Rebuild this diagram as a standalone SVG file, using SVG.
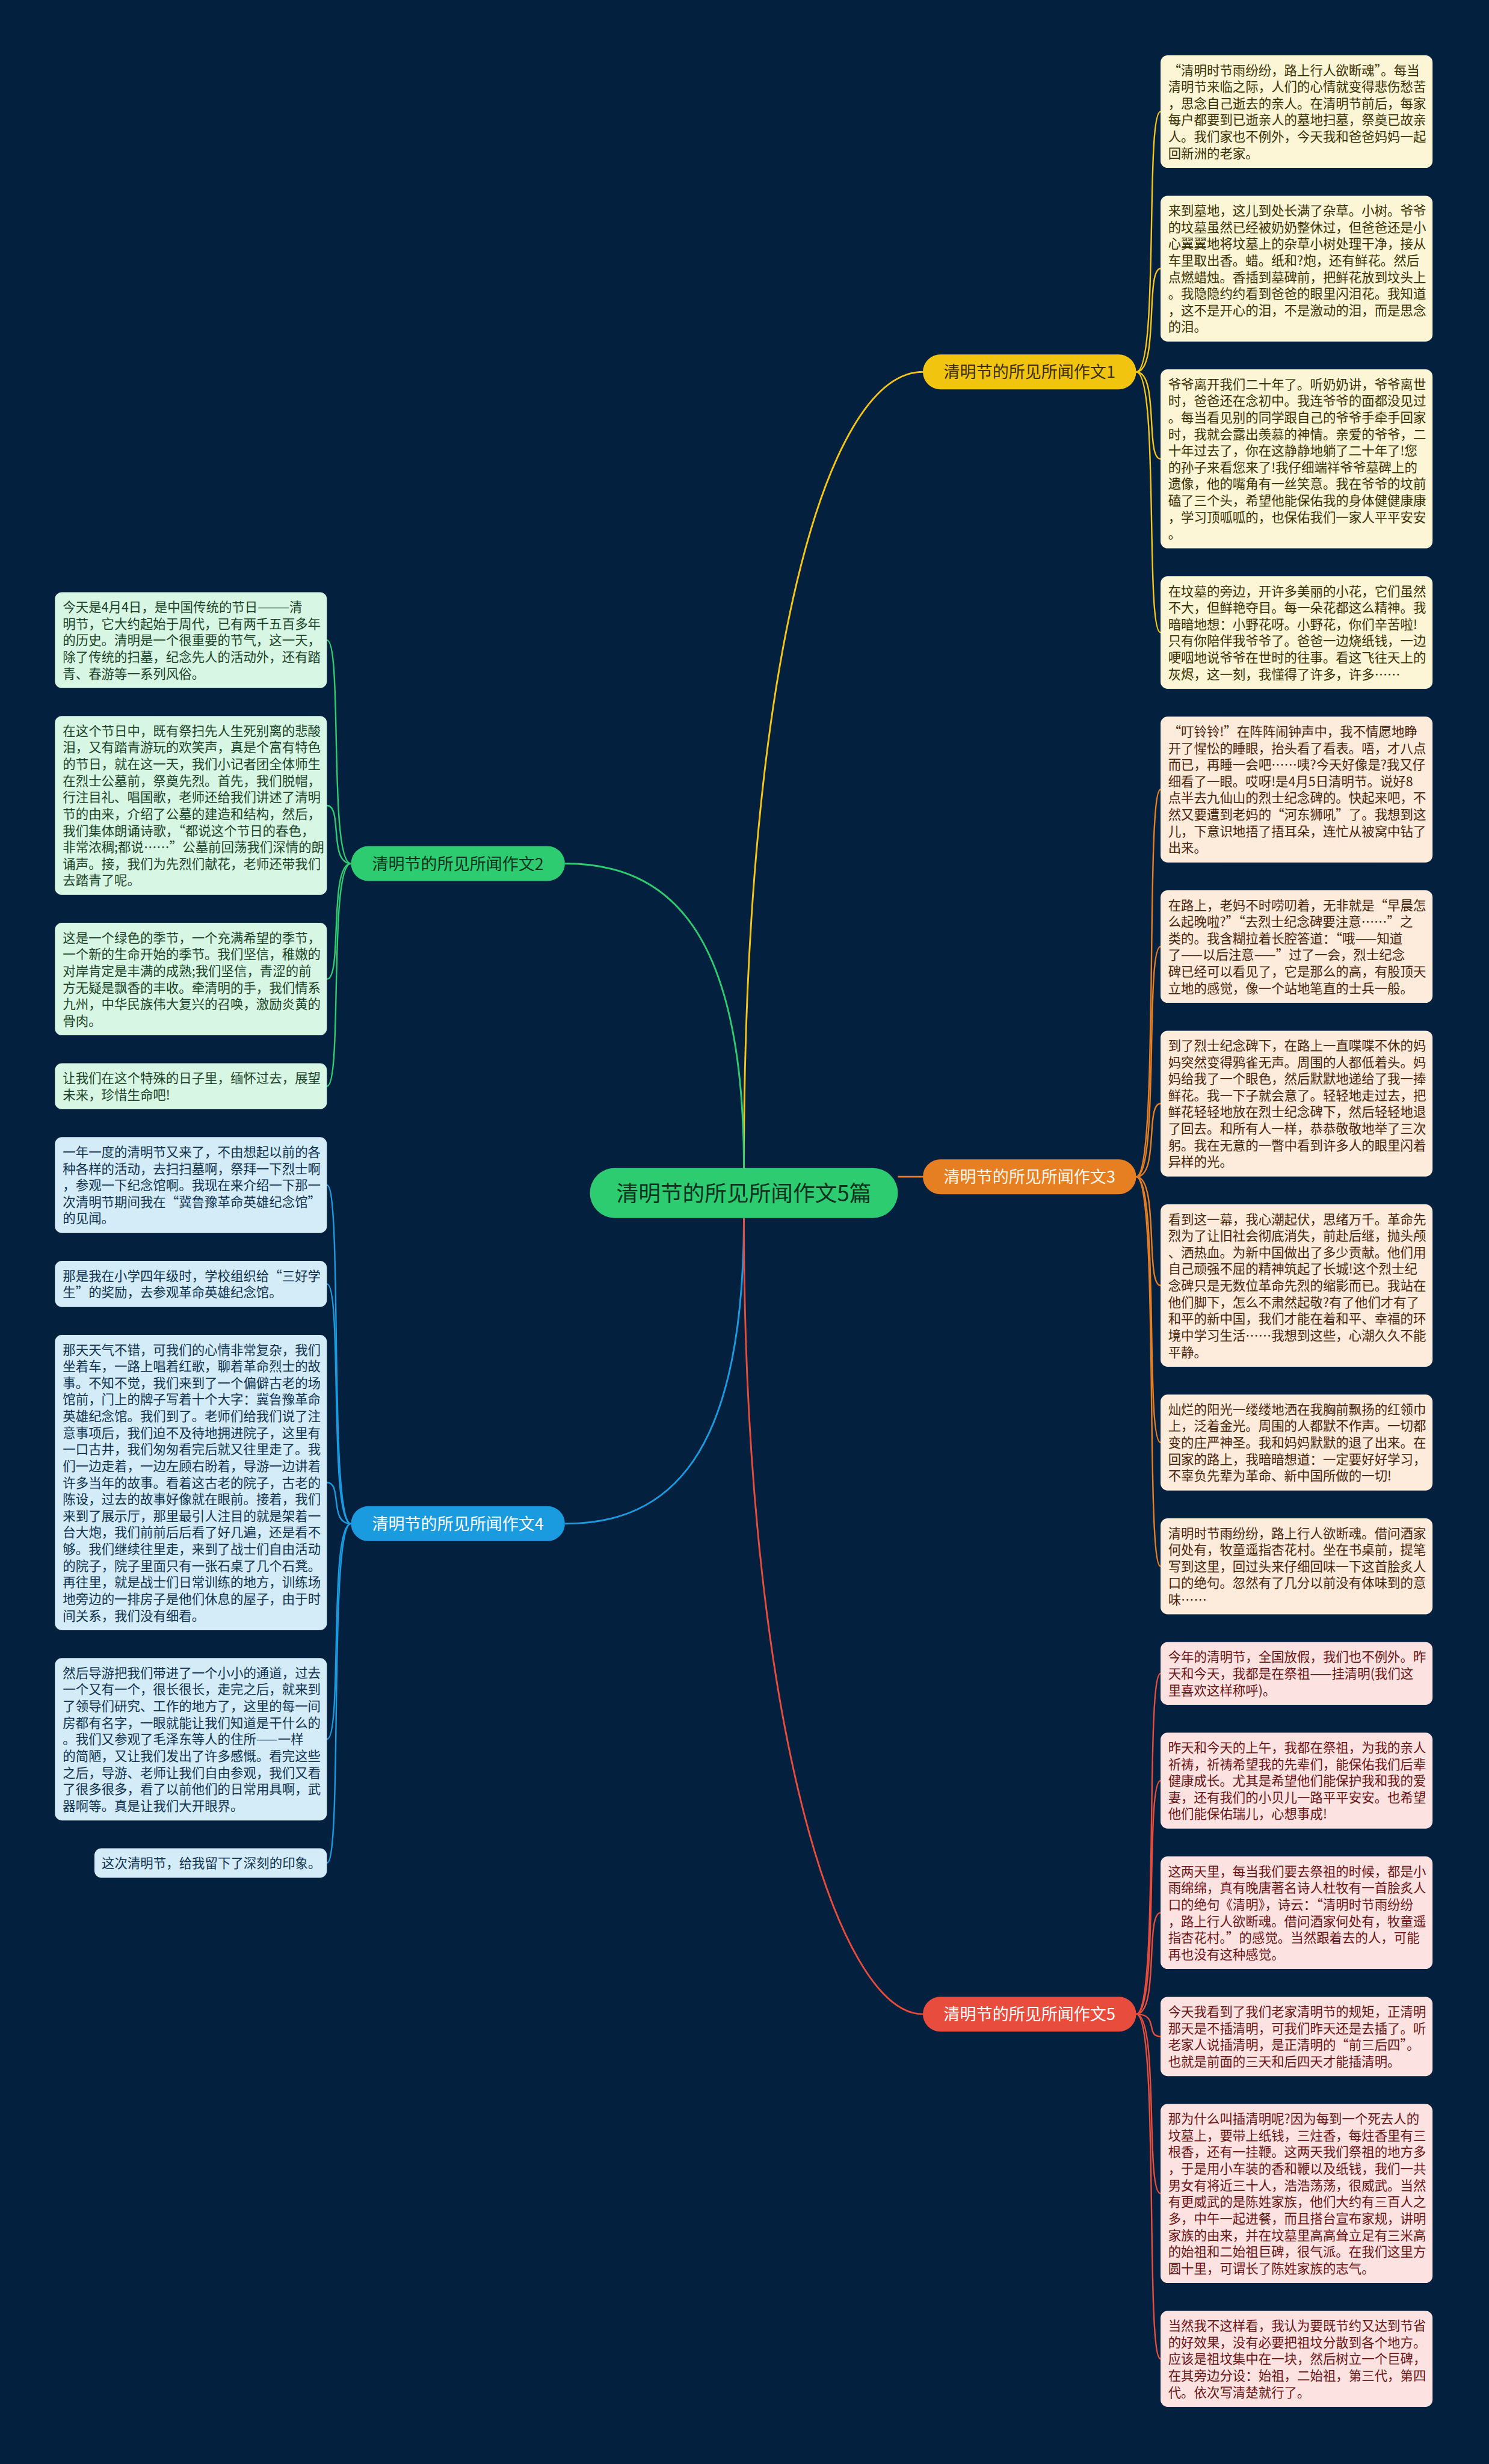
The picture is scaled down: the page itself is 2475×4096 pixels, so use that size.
<svg xmlns="http://www.w3.org/2000/svg" width="2475" height="4096" viewBox="0 0 2475 4096">
<style>
.t{font-family:"Noto Sans CJK SC","Noto Sans CJK JP",sans-serif;font-size:22.2px}
.bt{font-family:"Noto Sans CJK SC","Noto Sans CJK JP",sans-serif;font-size:28px;text-anchor:middle}
.ct{font-family:"Noto Sans CJK SC","Noto Sans CJK JP",sans-serif;font-size:38px;text-anchor:middle;fill:#0b3320}
.by{fill:#fdf6d6}.ty{fill:#3a3000}
.bo{fill:#fdebdc}.to{fill:#4a2408}
.br{fill:#fde2e2}.tr{fill:#6b1414}
.bg{fill:#d8f6e4}.tg{fill:#1b4429}
.bb{fill:#d3ecf8}.tb{fill:#0f3350}
.c{fill:none;stroke-width:2.5}
.m{fill:none;stroke-width:3}
</style>
<rect x="0" y="0" width="2475" height="4096" fill="#03213e"/>
<g transform="scale(0.966)">
<g id="connectors">
<path class="m" stroke="#f5c518" d="M1280,2010 C1280,1150 1420,640 1588,640"/>
<path class="m" stroke="#2ecc71" d="M1280,2010 C1280,1600 1150,1486 972,1486"/>
<path class="m" stroke="#1a9be0" d="M1280,2096 C1280,2510 1150,2622 972,2622"/>
<path class="m" stroke="#e74c3c" d="M1280,2096 C1280,2950 1440,3466 1588,3466"/>
<path class="m" stroke="#e67e22" d="M1545,2025 L1588,2025"/>
<g stroke="#f5c518">
<path class="c" d="M1955,640 C1995,640 1970,192.1 1997,192.1"/>
<path class="c" d="M1955,640 C1995,640 1970,462.3 1997,462.3"/>
<path class="c" d="M1955,640 C1995,640 1970,789.7 1997,789.7"/>
<path class="c" d="M1955,640 C1995,640 1970,1088.5 1997,1088.5"/>
</g>
<g stroke="#e67e22">
<path class="c" d="M1955,2025 C1995,2025 1970,1358.7 1997,1358.7"/>
<path class="c" d="M1955,2025 C1995,2025 1970,1628.9 1997,1628.9"/>
<path class="c" d="M1955,2025 C1995,2025 1970,1899.1 1997,1899.1"/>
<path class="c" d="M1955,2025 C1995,2025 1970,2212.2 1997,2212.2"/>
<path class="c" d="M1955,2025 C1995,2025 1970,2482.4 1997,2482.4"/>
<path class="c" d="M1955,2025 C1995,2025 1970,2695.4 1997,2695.4"/>
</g>
<g stroke="#e74c3c">
<path class="c" d="M1955,3466 C1995,3466 1970,2879.8 1997,2879.8"/>
<path class="c" d="M1955,3466 C1995,3466 1970,3064.2 1997,3064.2"/>
<path class="c" d="M1955,3466 C1995,3466 1970,3291.5 1997,3291.5"/>
<path class="c" d="M1955,3466 C1995,3466 1970,3504.5 1997,3504.5"/>
<path class="c" d="M1955,3466 C1995,3466 1970,3774.7 1997,3774.7"/>
<path class="c" d="M1955,3466 C1995,3466 1970,4059.2 1997,4059.2"/>
</g>
<g stroke="#2ecc71">
<path class="c" d="M604,1486 C565,1486 590,1101.6 562.5,1101.6"/>
<path class="c" d="M604,1486 C565,1486 590,1386.1 562.5,1386.1"/>
<path class="c" d="M604,1486 C565,1486 590,1684.9 562.5,1684.9"/>
<path class="c" d="M604,1486 C565,1486 590,1869.3 562.5,1869.3"/>
</g>
<g stroke="#1a9be0">
<path class="c" d="M604,2622 C565,2622 590,2039.4 562.5,2039.4"/>
<path class="c" d="M604,2622 C565,2622 590,2209.5 562.5,2209.5"/>
<path class="c" d="M604,2622 C565,2622 590,2551.2 562.5,2551.2"/>
<path class="c" d="M604,2622 C565,2622 590,2993 562.5,2993"/>
<path class="c" d="M604,2622 C565,2622 590,3206 562.5,3206"/>
</g>
</g>

<g id="center">
<rect x="1015" y="2010" width="530" height="86" rx="43" fill="#2ecc71"/>
<text class="ct" x="1280" y="2067">清明节的所见所闻作文5篇</text>
</g>
<g id="b1"><rect x="1588" y="610" width="367" height="60" rx="30" fill="#f1c40f"/><text class="bt" x="1771.5" y="650.5" fill="#3a2e00">清明节的所见所闻作文1</text></g>
<g id="b3"><rect x="1588" y="1995" width="367" height="60" rx="30" fill="#e67e22"/><text class="bt" x="1771.5" y="2035.5" fill="#fff6ec">清明节的所见所闻作文3</text></g>
<g id="b5"><rect x="1588" y="3436" width="367" height="60" rx="30" fill="#e74c3c"/><text class="bt" x="1771.5" y="3476.5" fill="#ffffff">清明节的所见所闻作文5</text></g>
<g id="b2"><rect x="604" y="1456" width="368" height="60" rx="30" fill="#2ecc71"/><text class="bt" x="788" y="1496.5" fill="#0b3320">清明节的所见所闻作文2</text></g>
<g id="b4"><rect x="604" y="2592" width="368" height="60" rx="30" fill="#1a9be0"/><text class="bt" x="788" y="2632.5" fill="#ffffff">清明节的所见所闻作文4</text></g>

<g id="r1"><rect class="by" x="1997" y="95.3" width="468" height="193.6" rx="12"/>
<text class="t ty" x="2010" y="129"><tspan x="2010">“清明时节雨纷纷，路上行人欲断魂”。每当</tspan><tspan x="2010" dy="28.6">清明节来临之际，人们的心情就变得悲伤愁苦</tspan><tspan x="2010" dy="28.6">，思念自己逝去的亲人。在清明节前后，每家</tspan><tspan x="2010" dy="28.6">每户都要到已逝亲人的墓地扫墓，祭奠已故亲</tspan><tspan x="2010" dy="28.6">人。我们家也不例外，今天我和爸爸妈妈一起</tspan><tspan x="2010" dy="28.6">回新洲的老家。</tspan></text></g>
<g id="r2"><rect class="by" x="1997" y="336.9" width="468" height="250.8" rx="12"/>
<text class="t ty" x="2010" y="370.6"><tspan x="2010">来到墓地，这儿到处长满了杂草。小树。爷爷</tspan><tspan x="2010" dy="28.6">的坟墓虽然已经被奶奶整休过，但爸爸还是小</tspan><tspan x="2010" dy="28.6">心翼翼地将坟墓上的杂草小树处理干净，接从</tspan><tspan x="2010" dy="28.6">车里取出香。蜡。纸和?炮，还有鲜花。然后</tspan><tspan x="2010" dy="28.6">点燃蜡烛。香插到墓碑前，把鲜花放到坟头上</tspan><tspan x="2010" dy="28.6">。我隐隐约约看到爸爸的眼里闪泪花。我知道</tspan><tspan x="2010" dy="28.6">，这不是开心的泪，不是激动的泪，而是思念</tspan><tspan x="2010" dy="28.6">的泪。</tspan></text></g>
<g id="r3"><rect class="by" x="1997" y="635.7" width="468" height="308" rx="12"/>
<text class="t ty" x="2010" y="669.4"><tspan x="2010">爷爷离开我们二十年了。听奶奶讲，爷爷离世</tspan><tspan x="2010" dy="28.6">时，爸爸还在念初中。我连爷爷的面都没见过</tspan><tspan x="2010" dy="28.6">。每当看见别的同学跟自己的爷爷手牵手回家</tspan><tspan x="2010" dy="28.6">时，我就会露出羡慕的神情。亲爱的爷爷，二</tspan><tspan x="2010" dy="28.6">十年过去了，你在这静静地躺了二十年了!您</tspan><tspan x="2010" dy="28.6">的孙子来看您来了!我仔细端祥爷爷墓碑上的</tspan><tspan x="2010" dy="28.6">遗像，他的嘴角有一丝笑意。我在爷爷的坟前</tspan><tspan x="2010" dy="28.6">磕了三个头，希望他能保佑我的身体健健康康</tspan><tspan x="2010" dy="28.6">，学习顶呱呱的，也保佑我们一家人平平安安</tspan><tspan x="2010" dy="28.6">。</tspan></text></g>
<g id="r4"><rect class="by" x="1997" y="991.7" width="468" height="193.6" rx="12"/>
<text class="t ty" x="2010" y="1025.4"><tspan x="2010">在坟墓的旁边，开许多美丽的小花，它们虽然</tspan><tspan x="2010" dy="28.6">不大，但鲜艳夺目。每一朵花都这么精神。我</tspan><tspan x="2010" dy="28.6">暗暗地想：小野花呀。小野花，你们辛苦啦!</tspan><tspan x="2010" dy="28.6">只有你陪伴我爷爷了。爸爸一边烧纸钱，一边</tspan><tspan x="2010" dy="28.6">哽咽地说爷爷在世时的往事。看这飞往天上的</tspan><tspan x="2010" dy="28.6">灰烬，这一刻，我懂得了许多，许多……</tspan></text></g>

<g id="r5"><rect class="bo" x="1997" y="1233.3" width="468" height="250.8" rx="12"/>
<text class="t to" x="2010" y="1267"><tspan x="2010">“叮铃铃!”在阵阵闹钟声中，我不情愿地睁</tspan><tspan x="2010" dy="28.6">开了惺忪的睡眼，抬头看了看表。唔，才八点</tspan><tspan x="2010" dy="28.6">而已，再睡一会吧……咦?今天好像是?我又仔</tspan><tspan x="2010" dy="28.6">细看了一眼。哎呀!是4月5日清明节。说好8</tspan><tspan x="2010" dy="28.6">点半去九仙山的烈士纪念碑的。快起来吧，不</tspan><tspan x="2010" dy="28.6">然又要遭到老妈的“河东狮吼”了。我想到这</tspan><tspan x="2010" dy="28.6">儿，下意识地捂了捂耳朵，连忙从被窝中钻了</tspan><tspan x="2010" dy="28.6">出来。</tspan></text></g>
<g id="r6"><rect class="bo" x="1997" y="1532.1" width="468" height="193.6" rx="12"/>
<text class="t to" x="2010" y="1565.8"><tspan x="2010">在路上，老妈不时唠叨着，无非就是“早晨怎</tspan><tspan x="2010" dy="28.6">么起晚啦?”“去烈士纪念碑要注意……”之</tspan><tspan x="2010" dy="28.6">类的。我含糊拉着长腔答道：“哦——知道</tspan><tspan x="2010" dy="28.6">了——以后注意——”过了一会，烈士纪念</tspan><tspan x="2010" dy="28.6">碑已经可以看见了，它是那么的高，有股顶天</tspan><tspan x="2010" dy="28.6">立地的感觉，像一个站地笔直的士兵一般。</tspan></text></g>
<g id="r7"><rect class="bo" x="1997" y="1773.7" width="468" height="250.8" rx="12"/>
<text class="t to" x="2010" y="1807.4"><tspan x="2010">到了烈士纪念碑下，在路上一直喋喋不休的妈</tspan><tspan x="2010" dy="28.6">妈突然变得鸦雀无声。周围的人都低着头。妈</tspan><tspan x="2010" dy="28.6">妈给我了一个眼色，然后默默地递给了我一捧</tspan><tspan x="2010" dy="28.6">鲜花。我一下子就会意了。轻轻地走过去，把</tspan><tspan x="2010" dy="28.6">鲜花轻轻地放在烈士纪念碑下，然后轻轻地退</tspan><tspan x="2010" dy="28.6">了回去。和所有人一样，恭恭敬敬地举了三次</tspan><tspan x="2010" dy="28.6">躬。我在无意的一瞥中看到许多人的眼里闪着</tspan><tspan x="2010" dy="28.6">异样的光。</tspan></text></g>
<g id="r8"><rect class="bo" x="1997" y="2072.5" width="468" height="279.4" rx="12"/>
<text class="t to" x="2010" y="2106.2"><tspan x="2010">看到这一幕，我心潮起伏，思绪万千。革命先</tspan><tspan x="2010" dy="28.6">烈为了让旧社会彻底消失，前赴后继，抛头颅</tspan><tspan x="2010" dy="28.6">、洒热血。为新中国做出了多少贡献。他们用</tspan><tspan x="2010" dy="28.6">自己顽强不屈的精神筑起了长城!这个烈士纪</tspan><tspan x="2010" dy="28.6">念碑只是无数位革命先烈的缩影而已。我站在</tspan><tspan x="2010" dy="28.6">他们脚下，怎么不肃然起敬?有了他们才有了</tspan><tspan x="2010" dy="28.6">和平的新中国，我们才能在着和平、幸福的环</tspan><tspan x="2010" dy="28.6">境中学习生活……我想到这些，心潮久久不能</tspan><tspan x="2010" dy="28.6">平静。</tspan></text></g>
<g id="r9"><rect class="bo" x="1997" y="2399.9" width="468" height="165" rx="12"/>
<text class="t to" x="2010" y="2433.6"><tspan x="2010">灿烂的阳光一缕缕地洒在我胸前飘扬的红领巾</tspan><tspan x="2010" dy="28.6">上，泛着金光。周围的人都默不作声。一切都</tspan><tspan x="2010" dy="28.6">变的庄严神圣。我和妈妈默默的退了出来。在</tspan><tspan x="2010" dy="28.6">回家的路上，我暗暗想道：一定要好好学习，</tspan><tspan x="2010" dy="28.6">不辜负先辈为革命、新中国所做的一切!</tspan></text></g>
<g id="r10"><rect class="bo" x="1997" y="2612.9" width="468" height="165" rx="12"/>
<text class="t to" x="2010" y="2646.6"><tspan x="2010">清明时节雨纷纷，路上行人欲断魂。借问酒家</tspan><tspan x="2010" dy="28.6">何处有，牧童遥指杏花村。坐在书桌前，提笔</tspan><tspan x="2010" dy="28.6">写到这里，回过头来仔细回味一下这首脍炙人</tspan><tspan x="2010" dy="28.6">口的绝句。忽然有了几分以前没有体味到的意</tspan><tspan x="2010" dy="28.6">味……</tspan></text></g>

<g id="r11"><rect class="br" x="1997" y="2825.9" width="468" height="107.8" rx="12"/>
<text class="t tr" x="2010" y="2859.6"><tspan x="2010">今年的清明节，全国放假，我们也不例外。昨</tspan><tspan x="2010" dy="28.6">天和今天，我都是在祭祖——挂清明(我们这</tspan><tspan x="2010" dy="28.6">里喜欢这样称呼)。</tspan></text></g>
<g id="r12"><rect class="br" x="1997" y="2981.7" width="468" height="165" rx="12"/>
<text class="t tr" x="2010" y="3015.4"><tspan x="2010">昨天和今天的上午，我都在祭祖，为我的亲人</tspan><tspan x="2010" dy="28.6">祈祷，祈祷希望我的先辈们，能保佑我们后辈</tspan><tspan x="2010" dy="28.6">健康成长。尤其是希望他们能保护我和我的爱</tspan><tspan x="2010" dy="28.6">妻，还有我们的小贝儿一路平平安安。也希望</tspan><tspan x="2010" dy="28.6">他们能保佑瑞儿，心想事成!</tspan></text></g>
<g id="r13"><rect class="br" x="1997" y="3194.7" width="468" height="193.6" rx="12"/>
<text class="t tr" x="2010" y="3228.4"><tspan x="2010">这两天里，每当我们要去祭祖的时候，都是小</tspan><tspan x="2010" dy="28.6">雨绵绵，真有晚唐著名诗人杜牧有一首脍炙人</tspan><tspan x="2010" dy="28.6">口的绝句《清明》，诗云：“清明时节雨纷纷</tspan><tspan x="2010" dy="28.6">，路上行人欲断魂。借问酒家何处有，牧童遥</tspan><tspan x="2010" dy="28.6">指杏花村。”的感觉。当然跟着去的人，可能</tspan><tspan x="2010" dy="28.6">再也没有这种感觉。</tspan></text></g>
<g id="r14"><rect class="br" x="1997" y="3436.3" width="468" height="136.4" rx="12"/>
<text class="t tr" x="2010" y="3470"><tspan x="2010">今天我看到了我们老家清明节的规矩，正清明</tspan><tspan x="2010" dy="28.6">那天是不插清明，可我们昨天还是去插了。听</tspan><tspan x="2010" dy="28.6">老家人说插清明，是正清明的“前三后四”。</tspan><tspan x="2010" dy="28.6">也就是前面的三天和后四天才能插清明。</tspan></text></g>
<g id="r15"><rect class="br" x="1997" y="3620.7" width="468" height="308" rx="12"/>
<text class="t tr" x="2010" y="3654.4"><tspan x="2010">那为什么叫插清明呢?因为每到一个死去人的</tspan><tspan x="2010" dy="28.6">坟墓上，要带上纸钱，三炷香，每炷香里有三</tspan><tspan x="2010" dy="28.6">根香，还有一挂鞭。这两天我们祭祖的地方多</tspan><tspan x="2010" dy="28.6">，于是用小车装的香和鞭以及纸钱，我们一共</tspan><tspan x="2010" dy="28.6">男女有将近三十人，浩浩荡荡，很威武。当然</tspan><tspan x="2010" dy="28.6">有更威武的是陈姓家族，他们大约有三百人之</tspan><tspan x="2010" dy="28.6">多，中午一起进餐，而且搭台宣布家规，讲明</tspan><tspan x="2010" dy="28.6">家族的由来，并在坟墓里高高耸立足有三米高</tspan><tspan x="2010" dy="28.6">的始祖和二始祖巨碑，很气派。在我们这里方</tspan><tspan x="2010" dy="28.6">圆十里，可谓长了陈姓家族的志气。</tspan></text></g>
<g id="r16"><rect class="br" x="1997" y="3976.7" width="468" height="165" rx="12"/>
<text class="t tr" x="2010" y="4010.4"><tspan x="2010">当然我不这样看，我认为要既节约又达到节省</tspan><tspan x="2010" dy="28.6">的好效果，没有必要把祖坟分散到各个地方。</tspan><tspan x="2010" dy="28.6">应该是祖坟集中在一块，然后树立一个巨碑，</tspan><tspan x="2010" dy="28.6">在其旁边分设：始祖，二始祖，第三代，第四</tspan><tspan x="2010" dy="28.6">代。依次写清楚就行了。</tspan></text></g>

<g id="l1"><rect class="bg" x="94.5" y="1019.1" width="468" height="165" rx="12"/>
<text class="t tg" x="108" y="1052.8"><tspan x="108">今天是4月4日，是中国传统的节日———清</tspan><tspan x="108" dy="28.6">明节，它大约起始于周代，已有两千五百多年</tspan><tspan x="108" dy="28.6">的历史。清明是一个很重要的节气，这一天，</tspan><tspan x="108" dy="28.6">除了传统的扫墓，纪念先人的活动外，还有踏</tspan><tspan x="108" dy="28.6">青、春游等一系列风俗。</tspan></text></g>
<g id="l2"><rect class="bg" x="94.5" y="1232.1" width="468" height="308" rx="12"/>
<text class="t tg" x="108" y="1265.8"><tspan x="108">在这个节日中，既有祭扫先人生死别离的悲酸</tspan><tspan x="108" dy="28.6">泪，又有踏青游玩的欢笑声，真是个富有特色</tspan><tspan x="108" dy="28.6">的节日，就在这一天，我们小记者团全体师生</tspan><tspan x="108" dy="28.6">在烈士公墓前，祭奠先烈。首先，我们脱帽，</tspan><tspan x="108" dy="28.6">行注目礼、唱国歌，老师还给我们讲述了清明</tspan><tspan x="108" dy="28.6">节的由来，介绍了公墓的建造和结构，然后，</tspan><tspan x="108" dy="28.6">我们集体朗诵诗歌，“都说这个节日的春色，</tspan><tspan x="108" dy="28.6">非常浓稠;都说……”公墓前回荡我们深情的朗</tspan><tspan x="108" dy="28.6">诵声。接，我们为先烈们献花，老师还带我们</tspan><tspan x="108" dy="28.6">去踏青了呢。</tspan></text></g>
<g id="l3"><rect class="bg" x="94.5" y="1588.1" width="468" height="193.6" rx="12"/>
<text class="t tg" x="108" y="1621.8"><tspan x="108">这是一个绿色的季节，一个充满希望的季节，</tspan><tspan x="108" dy="28.6">一个新的生命开始的季节。我们坚信，稚嫩的</tspan><tspan x="108" dy="28.6">对岸肯定是丰满的成熟;我们坚信，青涩的前</tspan><tspan x="108" dy="28.6">方无疑是飘香的丰收。牵清明的手，我们情系</tspan><tspan x="108" dy="28.6">九州，中华民族伟大复兴的召唤，激励炎黄的</tspan><tspan x="108" dy="28.6">骨肉。</tspan></text></g>
<g id="l4"><rect class="bg" x="94.5" y="1829.7" width="468" height="79.2" rx="12"/>
<text class="t tg" x="108" y="1863.4"><tspan x="108">让我们在这个特殊的日子里，缅怀过去，展望</tspan><tspan x="108" dy="28.6">未来，珍惜生命吧!</tspan></text></g>

<g id="l5"><rect class="bb" x="94.5" y="1956.9" width="468" height="165" rx="12"/>
<text class="t tb" x="108" y="1990.6"><tspan x="108">一年一度的清明节又来了，不由想起以前的各</tspan><tspan x="108" dy="28.6">种各样的活动，去扫扫墓啊，祭拜一下烈士啊</tspan><tspan x="108" dy="28.6">，参观一下纪念馆啊。我现在来介绍一下那一</tspan><tspan x="108" dy="28.6">次清明节期间我在“冀鲁豫革命英雄纪念馆”</tspan><tspan x="108" dy="28.6">的见闻。</tspan></text></g>
<g id="l6"><rect class="bb" x="94.5" y="2169.9" width="468" height="79.2" rx="12"/>
<text class="t tb" x="108" y="2203.6"><tspan x="108">那是我在小学四年级时，学校组织给“三好学</tspan><tspan x="108" dy="28.6">生”的奖励，去参观革命英雄纪念馆。</tspan></text></g>
<g id="l7"><rect class="bb" x="94.5" y="2297.1" width="468" height="508.2" rx="12"/>
<text class="t tb" x="108" y="2330.8"><tspan x="108">那天天气不错，可我们的心情非常复杂，我们</tspan><tspan x="108" dy="28.6">坐着车，一路上唱着红歌，聊着革命烈士的故</tspan><tspan x="108" dy="28.6">事。不知不觉，我们来到了一个偏僻古老的场</tspan><tspan x="108" dy="28.6">馆前，门上的牌子写着十个大字：冀鲁豫革命</tspan><tspan x="108" dy="28.6">英雄纪念馆。我们到了。老师们给我们说了注</tspan><tspan x="108" dy="28.6">意事项后，我们迫不及待地拥进院子，这里有</tspan><tspan x="108" dy="28.6">一口古井，我们匆匆看完后就又往里走了。我</tspan><tspan x="108" dy="28.6">们一边走着，一边左顾右盼着，导游一边讲着</tspan><tspan x="108" dy="28.6">许多当年的故事。看着这古老的院子，古老的</tspan><tspan x="108" dy="28.6">陈设，过去的故事好像就在眼前。接着，我们</tspan><tspan x="108" dy="28.6">来到了展示厅，那里最引人注目的就是架着一</tspan><tspan x="108" dy="28.6">台大炮，我们前前后后看了好几遍，还是看不</tspan><tspan x="108" dy="28.6">够。我们继续往里走，来到了战士们自由活动</tspan><tspan x="108" dy="28.6">的院子，院子里面只有一张石桌了几个石凳。</tspan><tspan x="108" dy="28.6">再往里，就是战士们日常训练的地方，训练场</tspan><tspan x="108" dy="28.6">地旁边的一排房子是他们休息的屋子，由于时</tspan><tspan x="108" dy="28.6">间关系，我们没有细看。</tspan></text></g>
<g id="l8"><rect class="bb" x="94.5" y="2853.3" width="468" height="279.4" rx="12"/>
<text class="t tb" x="108" y="2887"><tspan x="108">然后导游把我们带进了一个小小的通道，过去</tspan><tspan x="108" dy="28.6">一个又有一个，很长很长，走完之后，就来到</tspan><tspan x="108" dy="28.6">了领导们研究、工作的地方了，这里的每一间</tspan><tspan x="108" dy="28.6">房都有名字，一眼就能让我们知道是干什么的</tspan><tspan x="108" dy="28.6">。我们又参观了毛泽东等人的住所——一样</tspan><tspan x="108" dy="28.6">的简陋，又让我们发出了许多感慨。看完这些</tspan><tspan x="108" dy="28.6">之后，导游、老师让我们自由参观，我们又看</tspan><tspan x="108" dy="28.6">了很多很多，看了以前他们的日常用具啊，武</tspan><tspan x="108" dy="28.6">器啊等。真是让我们大开眼界。</tspan></text></g>
<g id="l9"><rect class="bb" x="162.5" y="3180.7" width="400" height="50.6" rx="12"/>
<text class="t tb" x="175" y="3214.4">这次清明节，给我留下了深刻的印象。</text></g>
</g>
</svg>
